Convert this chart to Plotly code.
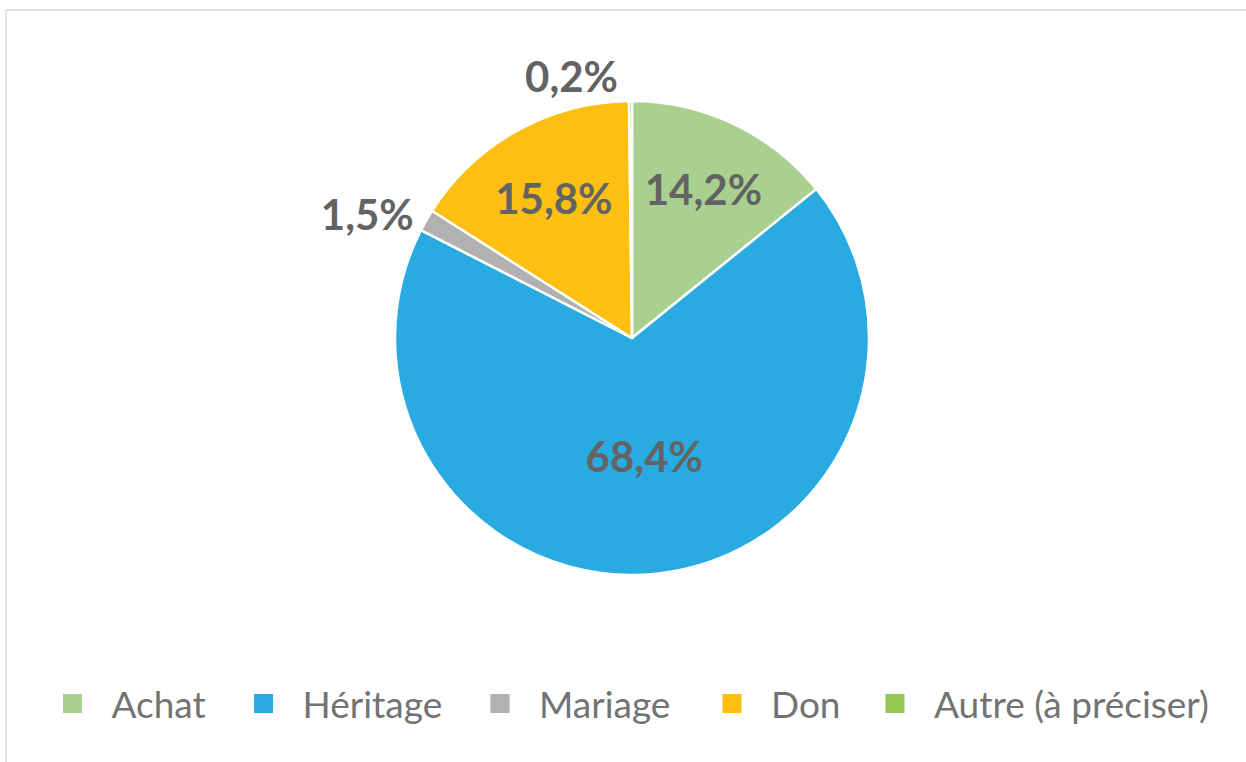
import plotly.graph_objects as go

# ---- data ----
categories = ["Achat", "Héritage", "Mariage", "Don", "Autre (à préciser)"]
values = [14.2, 68.4, 1.5, 15.8, 0.2]
colors = ["#A9D08E", "#29ABE2", "#B1B1B1", "#FCBF12", "#92C853"]
text_positions = ["inside", "inside", "outside", "inside", "outside"]

W, H = 1246, 762
# pie geometry (pixels)
cx, cy, r = 632, 338, 237

fig = go.Figure()
fig.add_trace(go.Pie(
    labels=categories,
    values=values,
    sort=False,
    direction="clockwise",
    rotation=0,
    marker=dict(colors=colors, line=dict(color="white", width=2.5)),
    texttemplate="%{value:.1f}%",
    textposition=text_positions,
    insidetextorientation="horizontal",
    textfont=dict(family="Lato", size=42, color="#636363", weight="bold"),
    showlegend=False,
    hoverinfo="label+value",
    domain=dict(x=[(cx - r) / W, (cx + r) / W], y=[(H - cy - r) / H, (H - cy + r) / H]),
))

# legend entries (one legend per entry, to reproduce the spacing)
legend_sq_x = [72.5, 263.5, 500, 732, 895]
layout_legends = {}
for i, (cat, col) in enumerate(zip(categories, colors)):
    key = "legend" if i == 0 else f"legend{i+1}"
    fig.add_trace(go.Scatter(
        x=[None], y=[None], mode="markers", name=cat,
        marker=dict(symbol="square", size=18, color=col, line=dict(color=col, width=3)),
        legend=key, showlegend=True, hoverinfo="skip",
    ))
    layout_legends[key] = dict(
        x=(legend_sq_x[i] - 39) / W, xanchor="left",
        y=(H - 704) / H, yanchor="middle",
        orientation="h",
        itemwidth=68,
        font=dict(family="Lato", size=37, color="#737373"),
        bgcolor="rgba(0,0,0,0)",
        itemsizing="trace",
    )

fig.update_layout(
    width=W, height=H, autosize=False,
    margin=dict(l=0, r=0, t=0, b=0),
    paper_bgcolor="white", plot_bgcolor="white",
    separators=", ",
    xaxis=dict(visible=False), yaxis=dict(visible=False),
    shapes=[
        dict(type="line", xref="paper", yref="paper", x0=6 / W, x1=1, y0=1 - 10 / H, y1=1 - 10 / H,
             line=dict(color="#D9D9D9", width=1.5)),
        dict(type="line", xref="paper", yref="paper", x0=6 / W, x1=6 / W, y0=0, y1=1 - 10 / H,
             line=dict(color="#D9D9D9", width=1.5)),
    ],
    **layout_legends,
)

fig.write_html(
    "out.html",
    config={"displayModeBar": False},
    post_script="document.body.style.margin='0';",
)
